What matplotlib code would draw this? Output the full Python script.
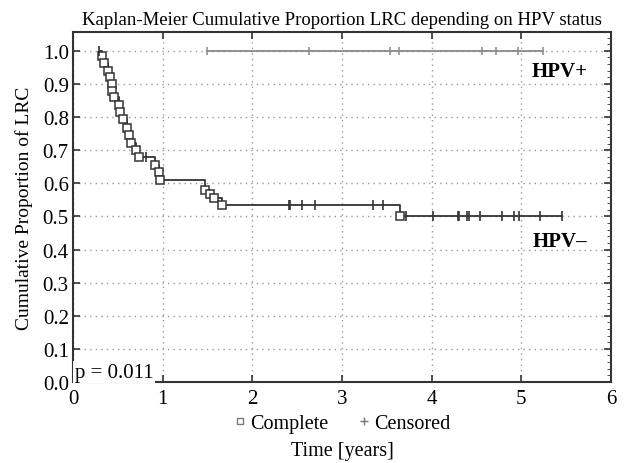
import matplotlib
matplotlib.use("Agg")
import matplotlib.pyplot as plt
from matplotlib.lines import Line2D
from matplotlib.ticker import MultipleLocator
import numpy as np

plt.rcParams['font.family'] = ['Liberation Serif', 'DejaVu Serif']

# HPV- : event times (complete) and survival after each event
neg_event_t = [0.32, 0.35, 0.39, 0.41, 0.43, 0.44, 0.46, 0.51, 0.52, 0.555,
               0.60, 0.63, 0.65, 0.70, 0.74, 0.915, 0.96, 0.97,
               1.475, 1.53, 1.575, 1.66, 3.65]
neg_event_s = [0.985, 0.962, 0.94, 0.92, 0.90, 0.88, 0.86, 0.835, 0.815, 0.793,
               0.768, 0.745, 0.723, 0.70, 0.68, 0.655, 0.633, 0.61,
               0.58, 0.568, 0.555, 0.535, 0.50]
neg_cens_t = [0.29, 0.815, 2.405, 2.42, 2.555, 2.70, 3.345, 3.455, 3.71, 4.01,
              4.29, 4.31, 4.39, 4.42, 4.54, 4.78, 4.92, 4.975, 5.21, 5.45]
# HPV+ : no events, censored only
pos_cens_t = [1.49, 2.63, 3.54, 3.635, 4.565, 4.715, 4.96, 5.24]

start_t = 0.29


def surv_at(t, ev_t, ev_s):
    s = 1.0
    for et, es in zip(ev_t, ev_s):
        if et <= t:
            s = es
    return s


fig = plt.figure(figsize=(6.33, 4.64), dpi=100)
ax = fig.add_axes([0.1153, 0.1746, 0.8500, 0.7543])

# HPV- step curve
xs = [start_t] + neg_event_t + [max(neg_cens_t)]
ys = [1.0] + neg_event_s + [neg_event_s[-1]]
ax.step(xs, ys, where='post', color='#333333', lw=1.3, zorder=3)
ax.plot(neg_event_t, neg_event_s, ls='none', marker='s', ms=5.5, mfc='white',
        mec='#333333', mew=1.1, zorder=4)
neg_cens_s = [surv_at(t, neg_event_t, neg_event_s) for t in neg_cens_t]
ax.plot(neg_cens_t, neg_cens_s, ls='none', marker='|', ms=7, mec='#333333',
        mew=1.2, zorder=4)

# HPV+ flat line
ax.plot([min(pos_cens_t), max(pos_cens_t)], [1.0, 1.0], color='#8a8a8a', lw=1.3, zorder=3)
ax.plot(pos_cens_t, [1.0] * len(pos_cens_t), ls='none', marker='|', ms=6,
        mec='#8a8a8a', mew=1.1, zorder=4)

ax.text(5.43, 0.94, 'HPV+', fontsize=15, fontweight='bold', ha='center', va='center')
ax.text(5.43, 0.426, 'HPV\u2013', fontsize=15, fontweight='bold', ha='center', va='center')
ax.text(0.02, 0.03, 'p = 0.011', fontsize=15, ha='left', va='center',
        bbox=dict(facecolor='white', edgecolor='none', pad=1.0), zorder=5)

ax.set_xlim(0, 6)
ax.set_ylim(0, 1.057)
ax.set_yticks(np.arange(0, 1.01, 0.1))
ax.set_yticklabels([f'{v:.1f}' for v in np.arange(0, 1.01, 0.1)])
ax.set_xticks(range(0, 7))
ax.yaxis.set_minor_locator(MultipleLocator(0.02))
ax.tick_params(axis='both', which='both', direction='in', top=True, right=True,
               labelsize=15, color='#333333')
ax.tick_params(axis='both', which='major', length=5, width=1.2, pad=3)
ax.tick_params(axis='x', which='major', pad=5)
ax.tick_params(axis='y', which='minor', length=3, left=False)
ax.tick_params(axis='x', which='minor', bottom=False, top=False)
ax.grid(True, which='major', ls=(0, (1, 3)), color='#9a9a9a', lw=1.0)
for sp in ax.spines.values():
    sp.set_linewidth(1.5)
    sp.set_color('#333333')

ax.set_title('Kaplan-Meier Cumulative Proportion LRC depending on HPV status',
             fontsize=13.5, pad=6)
ax.set_ylabel('Cumulative Proportion of LRC', fontsize=14, labelpad=7)
ax.set_xlabel('Time [years]', fontsize=14.5, labelpad=24)

handles = [Line2D([], [], ls='none', marker='s', ms=5, mfc='white', mec='#777777', mew=1.0),
           Line2D([], [], ls='none', marker='+', ms=6, mec='#777777', mew=1.0)]
ax.legend(handles, ['Complete', 'Censored'], loc='upper center',
          bbox_to_anchor=(0.5, -0.05), ncol=2, frameon=False, fontsize=14.5,
          handlelength=0.6, handletextpad=0.2, columnspacing=1.5,
          borderpad=0.2)

fig.savefig('out.png', dpi=100)
